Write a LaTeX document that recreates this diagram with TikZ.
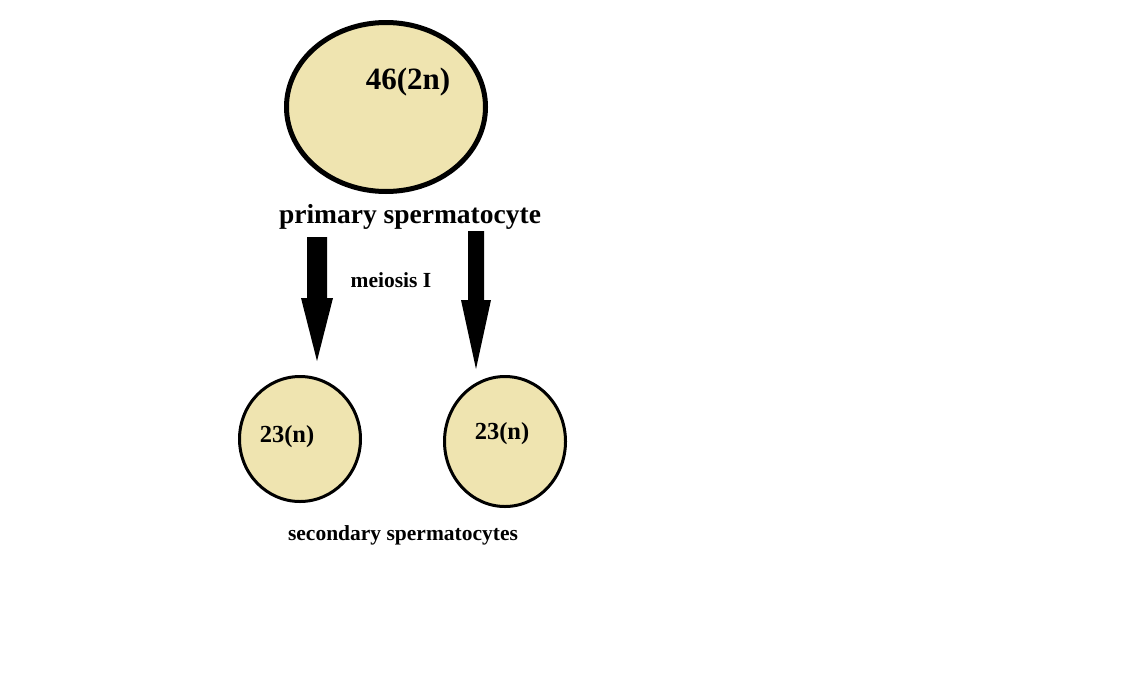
\documentclass[tikz,border=0pt]{standalone}
\usepackage{fontspec}
\setmainfont{Liberation Serif}
\usetikzlibrary{shapes.geometric}
\definecolor{cellfill}{RGB}{239,228,176}
\begin{document}
\begin{tikzpicture}[x=1pt,y=-1pt,
  cell/.style={ellipse,draw=black,fill=cellfill,inner sep=0pt},
  lbl/.style={inner sep=0pt,font=\bfseries},
  bigarrow/.style={fill=black,draw=none}]
\useasboundingbox (0,0) rectangle (1132,691);
% primary spermatocyte
\node[cell,line width=5pt,minimum width=199pt,minimum height=169pt] (prim) at (386,107) {};
\node[lbl,font=\bfseries\fontsize{31}{31}\selectfont] (primtxt) at (408,82) {46(2n)};
\node[lbl,font=\bfseries\fontsize{27.5}{27.5}\selectfont] (primlbl) at (410,217) {primary spermatocyte};
% arrows
\coordinate (a1e) at (317,361);
\coordinate (a2e) at (476,369);
\fill[bigarrow] (a1e) -- ++(-16,-63) -- ++(6,0) -- ++(0,-61) -- ++(20,0) -- ++(0,61) -- ++(6,0) -- cycle;
\fill[bigarrow] (a2e) -- ++(-15,-69) -- ++(7,0) -- ++(0,-69) -- ++(16,0) -- ++(0,69) -- ++(7,0) -- cycle;
\node[lbl,font=\bfseries\fontsize{21.5}{21.5}\selectfont] (meiosis) at (391,280) {meiosis I};
% secondary spermatocytes
\node[cell,line width=3pt,minimum width=121pt,minimum height=125pt] (secl) at (300,439) {};
\node[cell,line width=3pt,minimum width=121pt,minimum height=130pt] (secr) at (505,441.5) {};
\node[lbl,font=\bfseries\fontsize{24.5}{24.5}\selectfont] (secltxt) at (287,437) {23(n)};
\node[lbl,font=\bfseries\fontsize{24.5}{24.5}\selectfont] (secrtxt) at (502,434) {23(n)};
\node[lbl,font=\bfseries\fontsize{21.5}{21.5}\selectfont] (seclbl) at (403,535) {secondary spermatocytes};
\end{tikzpicture}
\end{document}
